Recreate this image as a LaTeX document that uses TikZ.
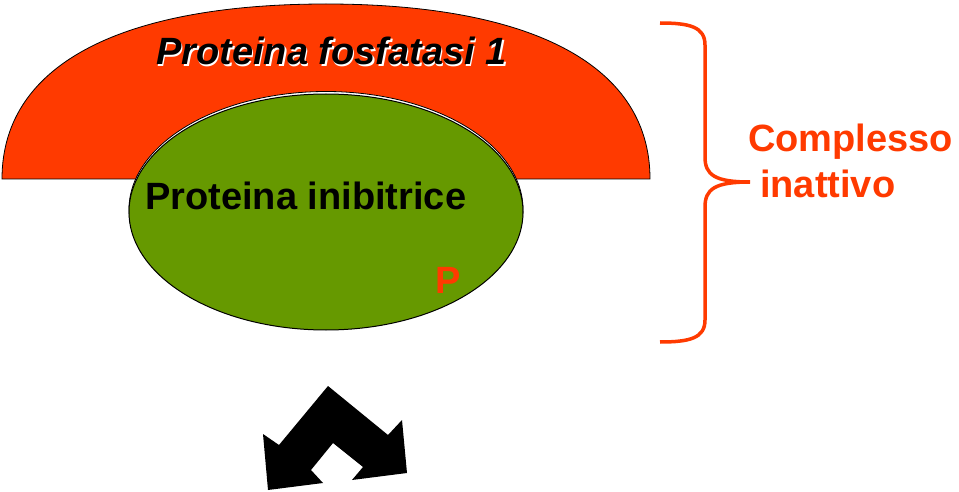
\documentclass[tikz,border=0pt]{standalone}
\usepackage{fontspec}
\setmainfont{Liberation Sans}
\usetikzlibrary{positioning}

\definecolor{fosfred}{RGB}{255,58,0}
\definecolor{inibgreen}{RGB}{102,153,0}

\begin{document}
\begin{tikzpicture}[x=1pt,y=-1pt,
  txt/.style={inner sep=0pt,anchor=base west,font=\fontsize{38}{46}\selectfont\bfseries},
  redtxt/.style={txt,text=fosfred}]
\useasboundingbox (0,0) rectangle (959,492);

% Define parameters
\def\cx{326}      %centre line of the complex.
\def\base{179}    %base line of the phosphatase.

% Define coordinates
\coordinate (braceTop) at (660,23);
\coordinate (braceTip) at (750,182);
\coordinate (braceBot) at (660,342);

% PHOSPHATASE
\draw[fill=fosfred,line width=0.8pt] (2,\base) .. controls (2,60) and (130,4) .. (\cx,4)
  .. controls (522,4) and (650,60) .. (650,\base) -- cycle;

% INHIBITOR
\draw[fill=white,line width=0.8pt] (\cx,209.5) ellipse [x radius=197,y radius=118];
\draw[fill=inibgreen,line width=1pt] (\cx,212) ellipse [x radius=197,y radius=118];

% Labels
\node[txt,text=white] (titleshadow) at (157.5,66.5) {\itshape Proteina fosfatasi 1};
\node[txt] (title) at (156,65) {\itshape Proteina fosfatasi 1};
\node[txt] (inhib) at (145,210) {Proteina inibitrice};
\node[redtxt] (phos) at (435,293) {P};

% Brace
\draw[fosfred,line width=3.5pt] (braceTop) .. controls +(30,0) and +(0,-18) .. (705,45) -- (705,157)
  .. controls +(0,18) and +(-35,0) .. (braceTip)
  .. controls +(-35,0) and +(0,-18) .. (705,207) -- (705,320)
  .. controls +(0,18) and +(30,0) .. (braceBot);
\node[redtxt] (complesso) at (748,152) {Complesso};
\node[redtxt] (inattivo) at (760,197) {inattivo};

% Double arrow
\fill (328,386) -- (388,435) -- (402,420) -- (407,473) -- (352,480) -- (363,467)
  -- (333,443) -- (311,470) -- (323,483) -- (268,490) -- (263,434) -- (279,445) -- cycle;

\end{tikzpicture}
\end{document}
